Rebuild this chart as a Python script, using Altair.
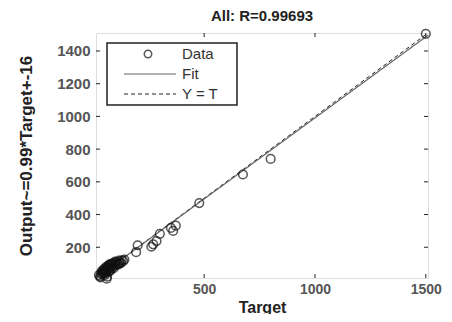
import altair as alt
import pandas as pd

# ---- data ----
target = [25, 30, 32, 35, 38, 40, 45, 48, 50, 52, 55, 58, 60, 60, 62, 65, 68, 70, 72, 75,
          78, 80, 85, 88, 90, 95, 100, 105, 110, 115, 120, 128, 135, 140,
          42, 47, 53, 57, 63, 67, 73, 77, 83, 92, 98, 108, 118, 125,
          193, 200, 262, 270, 285, 300, 350, 360, 372, 478, 675, 800, 1500]
output = [30, 22, 15, 40, 55, 35, 60, 45, 70, 30, 50, 80, 65, 8, 20, 75, 55, 90, 68, 85,
          60, 95, 75, 100, 85, 105, 90, 110, 100, 118, 108, 120, 115, 125,
          48, 38, 62, 42, 72, 88, 52, 98, 92, 72, 112, 92, 98, 105,
          170, 212, 203, 218, 238, 282, 318, 300, 332, 470, 645, 740, 1505]

fit_x = [12, 1510]
fit_y = [12, 1496]
yt_x = [12, 1510]
yt_y = [12, 1510]

x_ticks = [500, 1000, 1500]
y_ticks = [200, 400, 600, 800, 1000, 1200, 1400]

title_text = "All: R=0.99693"
x_title = "Target"
y_title = "Output~=0.99*Target+-16"
legend_labels = ["Data", "Fit", "Y = T"]

# ---- chart ----
W, H = 332, 245
dom = [12, 1510]
FONT = "Liberation Sans"

xs = alt.Scale(domain=dom, nice=False, zero=False)
ys = alt.Scale(domain=dom, nice=False, zero=False)

pts = pd.DataFrame({"t": target, "o": output})
fit = pd.DataFrame({"t": fit_x, "o": fit_y})
yt = pd.DataFrame({"t": yt_x, "o": yt_y})
xt = pd.DataFrame({"v": x_ticks})
ytk = pd.DataFrame({"v": y_ticks})
one = pd.DataFrame({"a": [0]})

x_axis = alt.Axis(values=x_ticks, grid=False, ticks=False, domain=False, format="d",
                  labelFont=FONT, labelFontSize=14, labelFontWeight="bold",
                  labelColor="#555555", labelPadding=4,
                  title=x_title, titleFont=FONT, titleFontSize=16,
                  titleFontWeight="bold", titleColor="#222222", titlePadding=3)
y_axis = alt.Axis(values=y_ticks, grid=False, ticks=False, domain=False, format="d",
                  labelFont=FONT, labelFontSize=15, labelFontWeight="bold",
                  labelColor="#555555", labelPadding=6,
                  title=y_title, titleFont=FONT, titleFontSize=17,
                  titleFontWeight="bold", titleColor="#222222", titlePadding=21)

dashed = alt.Chart(yt).mark_line(color="#222222", strokeWidth=1, strokeDash=[4, 3]).encode(
    x=alt.X("t:Q", scale=xs, axis=x_axis),
    y=alt.Y("o:Q", scale=ys, axis=y_axis),
)
fitline = alt.Chart(fit).mark_line(color="#666666", strokeWidth=1.2).encode(
    x=alt.X("t:Q", scale=xs), y=alt.Y("o:Q", scale=ys)
)
points = alt.Chart(pts).mark_point(shape="circle", filled=False, color="#111111",
                                   size=75, strokeWidth=1.5).encode(
    x=alt.X("t:Q", scale=xs), y=alt.Y("o:Q", scale=ys)
)

tick_col = "#222222"
xb = alt.Chart(xt).mark_rule(color=tick_col).encode(
    x=alt.X("v:Q", scale=xs), y=alt.value(H), y2=alt.value(H - 4))
xtop = alt.Chart(xt).mark_rule(color=tick_col).encode(
    x=alt.X("v:Q", scale=xs), y=alt.value(0), y2=alt.value(4))
yl = alt.Chart(ytk).mark_rule(color=tick_col).encode(
    y=alt.Y("v:Q", scale=ys), x=alt.value(0), x2=alt.value(4))
yr = alt.Chart(ytk).mark_rule(color=tick_col).encode(
    y=alt.Y("v:Q", scale=ys), x=alt.value(W), x2=alt.value(W - 4))

# legend (drawn by hand)
lg_box = alt.Chart(one).mark_rect(fill="white", stroke="#222222", strokeWidth=1.5).encode(
    x=alt.value(11), x2=alt.value(141), y=alt.value(10), y2=alt.value(72))
lg_pt = alt.Chart(one).mark_point(shape="circle", filled=False, color="#111111",
                                  size=55, strokeWidth=1.5).encode(
    x=alt.value(52), y=alt.value(21))
lg_fit = alt.Chart(one).mark_rule(color="#666666", strokeWidth=1.2).encode(
    x=alt.value(28), x2=alt.value(80), y=alt.value(41))
lg_yt = alt.Chart(one).mark_rule(color="#222222", strokeWidth=1, strokeDash=[4, 3]).encode(
    x=alt.value(28), x2=alt.value(80), y=alt.value(61))
lg_txt = alt.Chart(pd.DataFrame({"lab": legend_labels, "row": [21, 41, 61]})).mark_text(
    align="left", baseline="middle", font=FONT, fontSize=15, color="#333333", dx=0
).encode(x=alt.value(86), y=alt.Y("row:Q", scale=None), text="lab:N")

chart = alt.layer(
    dashed, fitline, points, xb, xtop, yl, yr, lg_box, lg_pt, lg_fit, lg_yt, lg_txt
).properties(
    width=W, height=H,
    title=alt.TitleParams(title_text, font=FONT, fontSize=15, fontWeight="bold",
                          color="#222222", anchor="middle", offset=2),
    autosize=alt.AutoSizeParams(type="none"),
    padding={"left": 88, "top": 25, "right": 16, "bottom": 36},
).configure_view(stroke="#222222", strokeWidth=1.5).configure(background="white")

chart.save("out.html", embed_options={"renderer": "svg", "actions": False})
